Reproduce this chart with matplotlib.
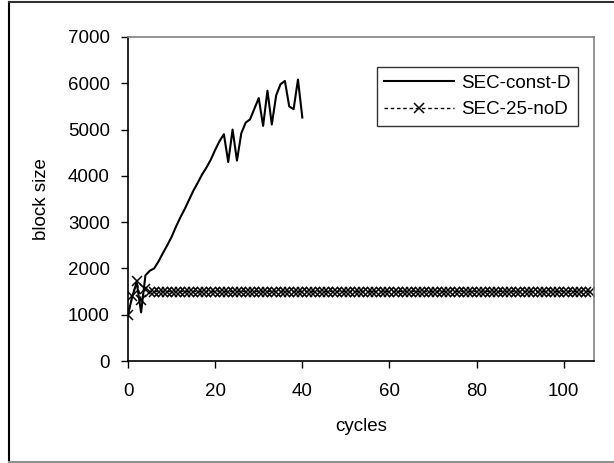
import matplotlib
matplotlib.use("Agg")
import matplotlib.pyplot as plt
from matplotlib.lines import Line2D

plt.rcParams['font.family'] = ['Liberation Sans', 'DejaVu Sans']

# SEC-const-D: block size per cycle (cycles 0..40)
const_cycles = list(range(41))
const_block = [1000, 1400, 1700, 1050, 1850, 1950, 2000, 2150, 2330, 2500,
               2680, 2900, 3100, 3280, 3480, 3680, 3850, 4030, 4180, 4350,
               4560, 4750, 4900, 4300, 5000, 4330, 4920, 5150, 5220, 5450,
               5680, 5080, 5840, 5110, 5740, 5980, 6050, 5500, 5440, 6080,
               5260]

# SEC-25-noD: block size per cycle (cycles 0..106)
nod_cycles = list(range(107))
nod_block = [1000, 1400, 1720, 1320, 1550] + [1500] * 102

x_ticks = [0, 20, 40, 60, 80, 100]
y_ticks = [0, 1000, 2000, 3000, 4000, 5000, 6000, 7000]

FS = 13.5

fig = plt.figure(figsize=(6.14, 4.63), dpi=100)
ax = fig.add_axes([128 / 614, 1 - 361 / 463, (594.3 - 128) / 614, (361 - 37) / 463])

ax.plot(const_cycles, const_block, color='black', lw=1.5, label='SEC-const-D')
ax.plot(nod_cycles, nod_block, color='black', lw=1.0, ls=(0, (2.5, 2)),
        marker='x', markersize=7, markeredgewidth=1.1, label='SEC-25-noD')

ax.set_xlim(0, 107)
ax.set_ylim(0, 7000)
ax.set_xticks(x_ticks)
ax.set_yticks(y_ticks)
ax.tick_params(direction='out', length=5, width=1, labelsize=FS, pad=8,
               color='black')
ax.tick_params(axis='x', pad=11)

for side in ('left', 'bottom'):
    ax.spines[side].set_color('black')
    ax.spines[side].set_linewidth(1.2)
for side in ('top', 'right'):
    ax.spines[side].set_color('#808080')
    ax.spines[side].set_linewidth(1.2)

ax.set_xlabel('cycles', fontsize=FS, labelpad=13)
ax.set_ylabel('block size', fontsize=FS, labelpad=13)

leg = ax.legend(loc='upper right', bbox_to_anchor=(578 / 614, 1 - 67 / 463),
                bbox_transform=fig.transFigure, fontsize=FS, frameon=True,
                fancybox=False, edgecolor='black', borderpad=0.4,
                handlelength=3.7, handletextpad=0.4, labelspacing=0.5,
                borderaxespad=0)
leg.get_frame().set_linewidth(1.0)

# Outer chart frame
fig.add_artist(Line2D([8.5 / 614, 8.5 / 614], [1 - 2 / 463, 1 - 462 / 463],
                      transform=fig.transFigure, color='black', lw=1.5))
fig.add_artist(Line2D([8.5 / 614, 1.0], [1 - 2 / 463, 1 - 2 / 463],
                      transform=fig.transFigure, color='#303030', lw=1.5))
fig.add_artist(Line2D([8.5 / 614, 1.0], [1 - 462 / 463, 1 - 462 / 463],
                      transform=fig.transFigure, color='#909090', lw=1.5))

fig.savefig('out.png', dpi=100)
